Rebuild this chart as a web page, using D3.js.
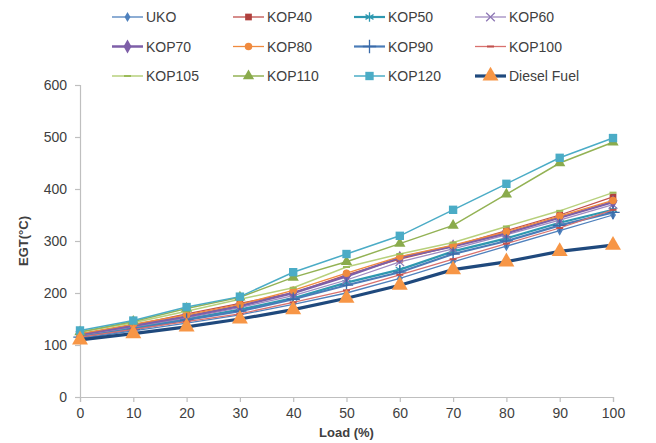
<!DOCTYPE html>
<html>
<head>
<meta charset="utf-8">
<script src="https://cdn.jsdelivr.net/npm/d3@7"></script>
<style>
  body { margin: 0; background: #fff; }
  text { font-family: "Liberation Sans", Arial, sans-serif; fill: #404040; }
</style>
</head>
<body>
<div id="chart"></div>
<script>
// Data
var loads = [0, 10, 20, 30, 40, 50, 60, 70, 80, 90, 100];
var yTicks = [0, 100, 200, 300, 400, 500, 600];

var uko     = [112, 127, 142, 158, 178, 200, 228, 260, 290, 320, 350];
var kop40   = [120, 138, 160, 180, 200, 235, 265, 290, 320, 350, 385];
var kop50   = [118, 133, 150, 168, 190, 220, 245, 280, 305, 335, 360];
var kop60   = [118, 135, 152, 172, 195, 225, 260, 285, 312, 340, 370];
var kop70   = [120, 137, 155, 175, 200, 232, 268, 290, 315, 345, 375];
var kop80   = [122, 140, 158, 178, 205, 238, 270, 292, 318, 348, 378];
var kop90   = [115, 130, 148, 165, 188, 215, 240, 275, 300, 330, 355];
var kop100  = [115, 130, 145, 160, 182, 205, 235, 265, 295, 325, 360];
var kop105  = [125, 143, 165, 188, 210, 250, 275, 297, 328, 358, 393];
var kop110  = [125, 145, 170, 192, 230, 260, 295, 330, 390, 450, 490];
var kop120  = [128, 147, 173, 193, 240, 275, 310, 360, 410, 460, 498];
var diesel  = [110, 122, 135, 150, 168, 190, 215, 245, 260, 280, 292];

var seriesNames = ["UKO", "KOP40", "KOP50", "KOP60", "KOP70", "KOP80",
                   "KOP90", "KOP100", "KOP105", "KOP110", "KOP120", "Diesel Fuel"];
var seriesValues = [uko, kop40, kop50, kop60, kop70, kop80,
                    kop90, kop100, kop105, kop110, kop120, diesel];

// Styles per series: line colour, line width, marker shape, marker colour, marker size
var styles = [
  {line: "#4F81BD", w: 1.3, marker: "diamond", mc: "#4F81BD", ms: 30},
  {line: "#C0504D", w: 1.3, marker: "square",  mc: "#B0403D", ms: 45},
  {line: "#2E98B0", w: 2.2, marker: "star",    mc: "#2E98B0", ms: 60},
  {line: "#9F8AC0", w: 1.3, marker: "cross",   mc: "#8E78B5", ms: 50},
  {line: "#7E5FA8", w: 2.5, marker: "diamond", mc: "#7E5FA8", ms: 55},
  {line: "#F08A3E", w: 1.3, marker: "circle",  mc: "#F08A3E", ms: 45},
  {line: "#4A7CB8", w: 2.2, marker: "plus",    mc: "#3A6AA8", ms: 60},
  {line: "#D9716E", w: 1.3, marker: "dash",    mc: "#C0504D", ms: 30},
  {line: "#B7D07C", w: 1.5, marker: "dash",    mc: "#9BBB59", ms: 40},
  {line: "#93B254", w: 1.5, marker: "triangle",mc: "#8AAB4C", ms: 55},
  {line: "#4BACC6", w: 1.5, marker: "square",  mc: "#4BACC6", ms: 70},
  {line: "#1F497D", w: 3.2, marker: "triangle",mc: "#F79646", ms: 110}
];

var W = 656, H = 443;
var margin = {top: 85, right: 43, bottom: 46, left: 80};
var width = W - margin.left - margin.right;
var height = H - margin.top - margin.bottom;

var svg = d3.select("#chart").append("svg")
  .attr("width", W)
  .attr("height", H);

var g = svg.append("g")
  .attr("transform", `translate(${margin.left},${margin.top})`);

var xScale = d3.scaleLinear().domain([0, 100]).range([0, width]);
var yScale = d3.scaleLinear().domain([0, 600]).range([height, 0]);

// Axes
var xAxis = g.append("g")
  .attr("transform", "translate(0," + height + ")")
  .call(d3.axisBottom(xScale).tickValues(loads).tickSize(5).tickPadding(6));
var yAxis = g.append("g")
  .call(d3.axisLeft(yScale).tickValues(yTicks).tickSize(5).tickPadding(8));
[xAxis, yAxis].forEach(function(a) {
  a.selectAll("path, line").attr("stroke", "#BFBFBF").attr("stroke-width", 1.2);
  a.selectAll("text").style("font-size", "14px").attr("fill", "#404040");
});

// Axis titles
g.append("text")
  .attr("text-anchor", "middle")
  .attr("transform", "translate(-52," + (height / 2) + ")rotate(-90)")
  .style("font-size", "13px")
  .style("font-weight", "bold")
  .text("EGT(°C)");
g.append("text")
  .attr("text-anchor", "middle")
  .attr("x", width / 2)
  .attr("y", height + 40)
  .style("font-size", "13px")
  .style("font-weight", "bold")
  .text("Load (%)");

var symbolTypes = {
  diamond: d3.symbolDiamond, square: d3.symbolSquare, circle: d3.symbolCircle,
  triangle: d3.symbolTriangle, star: d3.symbolAsterisk, cross: d3.symbolX,
  plus: d3.symbolPlus
};

function drawMarker(sel, st, x, y) {
  if (st.marker === "dash") {
    sel.append("line")
      .attr("x1", x - 3.5).attr("x2", x + 3.5)
      .attr("y1", y).attr("y2", y)
      .attr("stroke", st.mc).attr("stroke-width", 2);
    return;
  }
  var p = sel.append("path")
    .attr("transform", `translate(${x},${y})`)
    .attr("d", d3.symbol().type(symbolTypes[st.marker]).size(st.ms)());
  if (st.marker === "star" || st.marker === "cross" || st.marker === "plus") {
    p.attr("fill", "none").attr("stroke", st.mc).attr("stroke-width", 1.3);
  } else {
    p.attr("fill", st.mc);
  }
}

var line = d3.line()
  .x(function(d, i) { return xScale(loads[i]); })
  .y(function(d) { return yScale(d); });

seriesValues.forEach(function(vals, k) {
  var st = styles[k];
  var sg = g.append("g");
  sg.append("path")
    .datum(vals)
    .attr("fill", "none")
    .attr("stroke", st.line)
    .attr("stroke-width", st.w)
    .attr("d", line);
  vals.forEach(function(v, i) {
    drawMarker(sg, st, xScale(loads[i]), yScale(v));
  });
});

// Legend
var legend = svg.append("g");
seriesNames.forEach(function(name, k) {
  var st = styles[k];
  var col = k % 4, row = Math.floor(k / 4);
  var lx = 112 + col * 121, ly = 17 + row * 29.5;
  var lg = legend.append("g");
  lg.append("line")
    .attr("x1", lx).attr("x2", lx + 31)
    .attr("y1", ly).attr("y2", ly)
    .attr("stroke", st.line).attr("stroke-width", st.w);
  drawMarker(lg, st, lx + 15.5, ly);
  lg.append("text")
    .attr("x", lx + 34)
    .attr("y", ly + 5)
    .style("font-size", "14px")
    .attr("fill", "#262626")
    .text(name);
});
</script>
</body>
</html>
